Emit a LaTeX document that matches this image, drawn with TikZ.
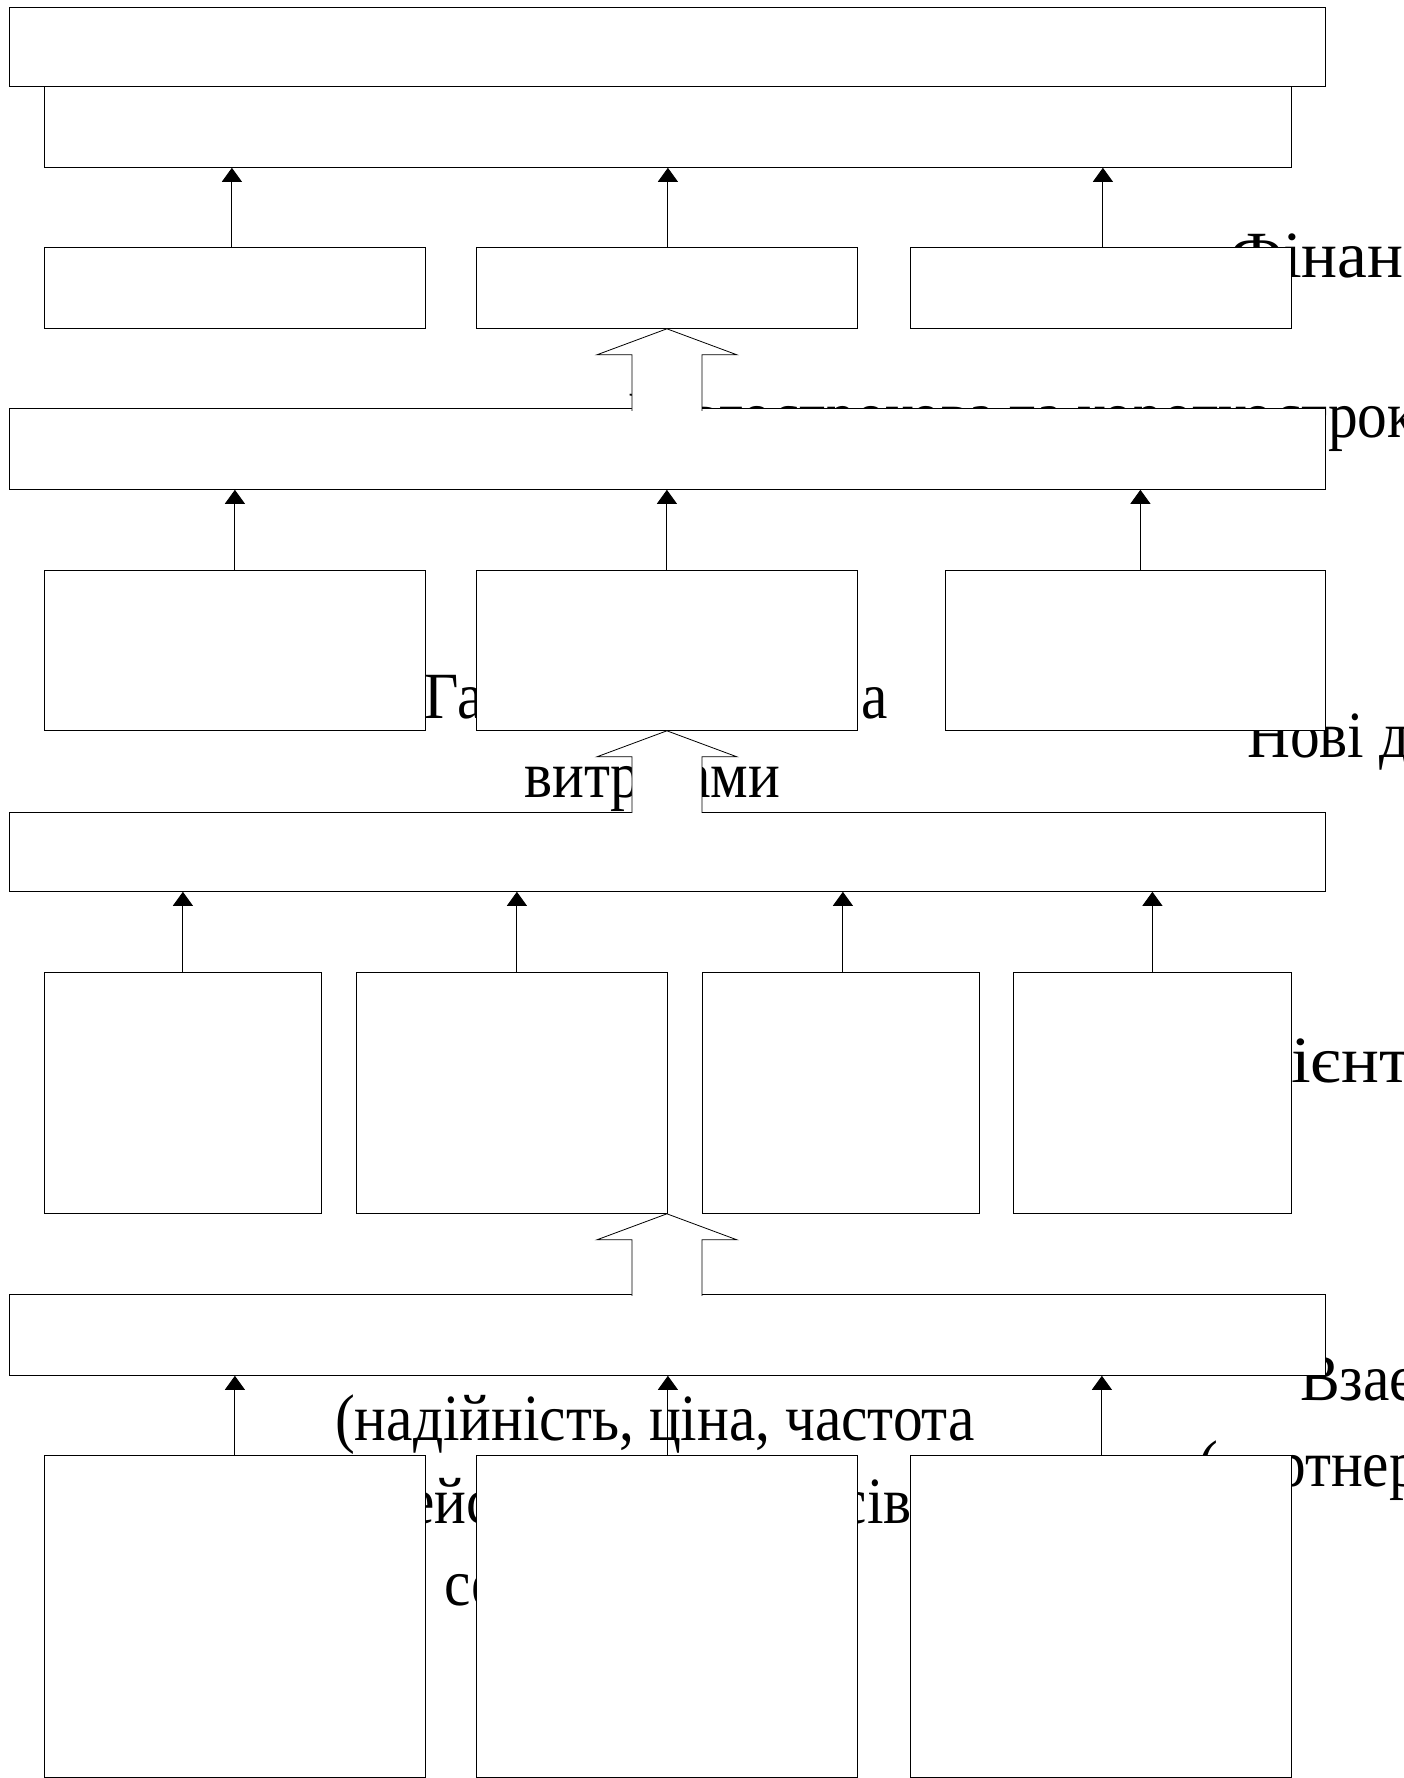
\documentclass[tikz,border=0pt]{standalone}
\usepackage{fontspec}
\newfontfamily\txt[FakeStretch=0.9]{Liberation Serif}
\usetikzlibrary{arrows.meta, calc}

\tikzset{
  blk/.style={draw, fill=white, line width=0.8pt, inner sep=0pt, anchor=north west},
  lbl/.style={anchor=base west, inner sep=0pt, font=\txt\fontsize{66pt}{82pt}\selectfont},
  up/.style={-{Triangle[length=14pt,width=20pt]}, line width=0.9pt}
}

\newcommand\blockup[1]{%
  \filldraw[fill=white, line width=0.8pt] ($(#1)+(-35,82)$) -- ++(0,-56) -- ++(-35,0)
    -- (#1) -- ++(70,26) -- ++(-35,0) -- ++(0,56);}

\begin{document}
\begin{tikzpicture}[x=1pt,y=-1pt]
\useasboundingbox (0,0) rectangle (1404,1778);
\clip (0,0) rectangle (1404,1778);
\fill[white] (0,0) rectangle (1404,1778);

\node[lbl] (fin) at (1230,277) {\scalebox{1.13}[1]{Фінан}};
\node[lbl] (dovg) at (621,437) {Довгострокова та короткострок};
\node[lbl] (ga) at (424,718) {Га};
\node[lbl] (gaend) at (861,718) {а};
\node[lbl] (vytr) at (524,797) {витр};
\node[lbl, anchor=base east] (amy) at (780,797) {ами};
\node[lbl] (novi) at (1247,757) {Нові д};
\node[lbl] (klient) at (1291,1082) {\scalebox{1.19}[1]{ієнт}};
\node[lbl] (vzaie) at (1300,1400) {Взає};
\node[lbl] (partn) at (1198,1486) {(партнер};
\node[lbl] (nad) at (335,1440) {(надійність, ціна, частота};
\node[lbl] (reis) at (408,1523) {ейс};
\node[lbl, anchor=base east] (siv) at (912,1523) {сів};
\node[lbl] (se) at (444,1605) {се};

\node[blk, minimum width=1316pt, minimum height=79pt] (top) at (9,7) {};
\node[blk, minimum width=1247pt, minimum height=81pt] (res) at (44,86) {};
\node[blk, minimum width=381pt, minimum height=81pt] (f1) at (44,247) {};
\node[blk, minimum width=381pt, minimum height=81pt] (f2) at (476,247) {};
\node[blk, minimum width=381pt, minimum height=81pt] (f3) at (910,247) {};
\node[blk, minimum width=1316pt, minimum height=81pt] (fin2) at (9,408) {};
\node[blk, minimum width=381pt, minimum height=160pt] (e1) at (44,570) {};
\node[blk, minimum width=381pt, minimum height=160pt] (e2) at (476,570) {};
\node[blk, minimum width=380pt, minimum height=160pt] (e3) at (945,570) {};
\node[blk, minimum width=1316pt, minimum height=79pt] (cli) at (9,812) {};
\node[blk, minimum width=277pt, minimum height=241pt] (c1) at (44,972) {};
\node[blk, minimum width=311pt, minimum height=241pt] (c2) at (356,972) {};
\node[blk, minimum width=277pt, minimum height=241pt] (c3) at (702,972) {};
\node[blk, minimum width=278pt, minimum height=241pt] (c4) at (1013,972) {};
\node[blk, minimum width=1316pt, minimum height=81pt] (proc) at (9,1294) {};
\node[blk, minimum width=381pt, minimum height=322pt] (p1) at (44,1455) {};
\node[blk, minimum width=381pt, minimum height=322pt] (p2) at (476,1455) {};
\node[blk, minimum width=381pt, minimum height=322pt] (p3) at (910,1455) {};

\draw[up] ([xshift=-3pt]f1.north) -- ([xshift=-3pt]f1.north |- res.south);
\draw[up] ([xshift=1pt]f2.north) -- ([xshift=1pt]f2.north |- res.south);
\draw[up] ([xshift=2pt]f3.north) -- ([xshift=2pt]f3.north |- res.south);
\draw[up] (e1.north) -- (e1.north |- fin2.south);
\draw[up] (e2.north) -- (e2.north |- fin2.south);
\draw[up] ([xshift=5pt]e3.north) -- ([xshift=5pt]e3.north |- fin2.south);
\draw[up] (c1.north) -- (c1.north |- cli.south);
\draw[up] ([xshift=5pt]c2.north) -- ([xshift=5pt]c2.north |- cli.south);
\draw[up] ([xshift=2pt]c3.north) -- ([xshift=2pt]c3.north |- cli.south);
\draw[up] (c4.north) -- (c4.north |- cli.south);
\draw[up] (p1.north) -- (p1.north |- proc.south);
\draw[up] ([xshift=1pt]p2.north) -- ([xshift=1pt]p2.north |- proc.south);
\draw[up] ([xshift=1pt]p3.north) -- ([xshift=1pt]p3.north |- proc.south);

\blockup{f2.south}
\blockup{e2.south}
\blockup{c2.south -| f2.south}
\end{tikzpicture}
\end{document}
